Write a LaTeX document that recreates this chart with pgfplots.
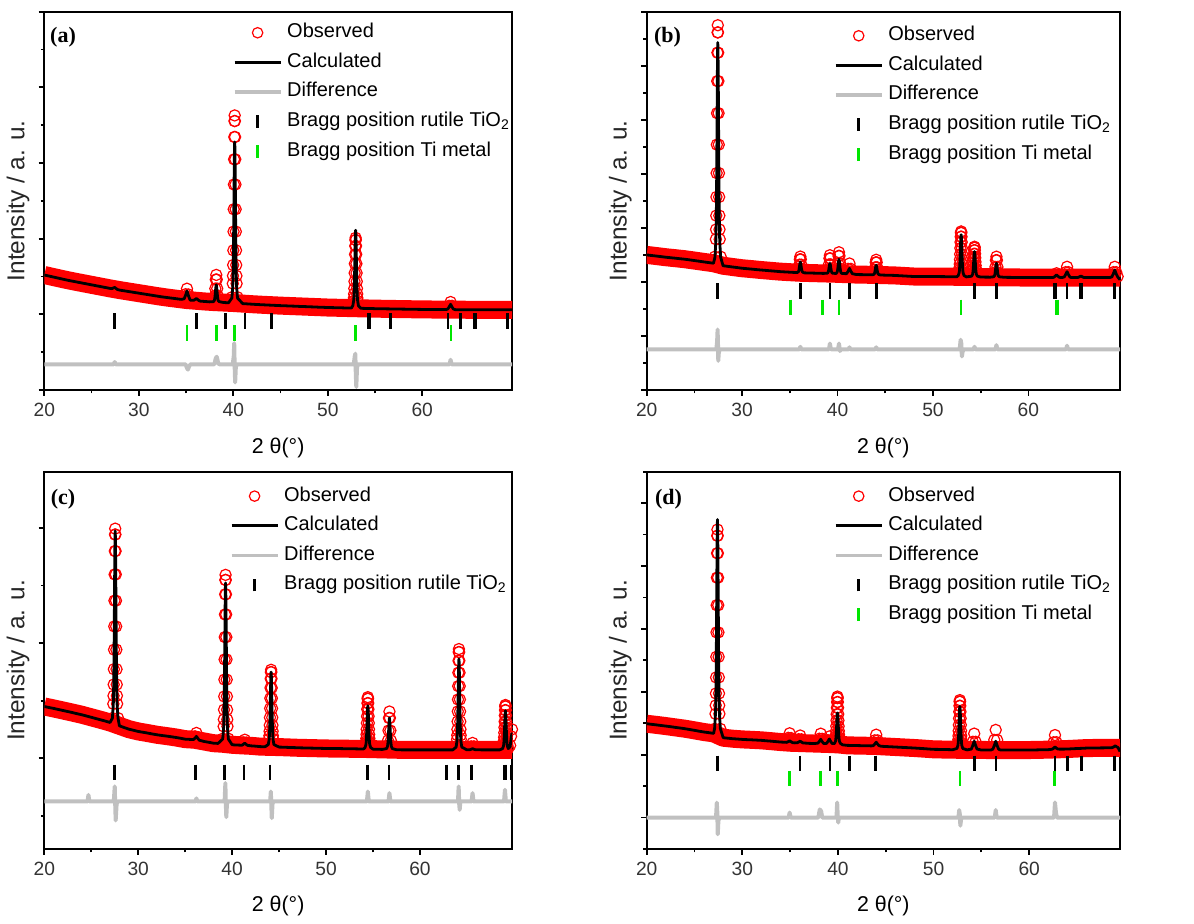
\documentclass[border=0pt]{standalone}
\usepackage{fontspec}
\setmainfont{Liberation Sans}
\newfontfamily\serifbf{Liberation Serif}
\usepackage{pgfplots}
\usepackage{pgfplotstable}
\pgfplotsset{compat=1.18}
\definecolor{obsred}{RGB}{255,0,0}
\definecolor{tigreen}{RGB}{0,230,0}
\definecolor{diffgray}{RGB}{192,192,192}

\pgfplotstableread{
x o c
20 1.520 1.520
20.5 1.506 1.506
21 1.492 1.492
21.5 1.478 1.478
22 1.464 1.464
22.5 1.450 1.450
23 1.438 1.438
23.5 1.426 1.426
24 1.414 1.414
24.5 1.402 1.402
25 1.390 1.390
25.5 1.378 1.378
26 1.366 1.366
26.5 1.354 1.354
27 1.342 1.342
27.15 1.341 1.340
27.3 1.350 1.348
27.45 1.361 1.356
27.6 1.343 1.341
27.75 1.328 1.328
28 1.320 1.320
28.5 1.310 1.310
29 1.300 1.300
29.5 1.290 1.290
30 1.280 1.280
30.5 1.270 1.270
31 1.260 1.260
31.5 1.250 1.250
32 1.240 1.240
32.5 1.230 1.230
33 1.222 1.222
33.5 1.214 1.214
34 1.206 1.206
34.5 1.198 1.198
34.8 1.208 1.205
34.95 1.266 1.251
35.1 1.339 1.309
35.25 1.263 1.248
35.4 1.201 1.198
35.5 1.185 1.185
35.8 1.185 1.185
35.95 1.196 1.196
36.1 1.209 1.209
36.25 1.193 1.193
36.4 1.179 1.179
36.5 1.175 1.175
37 1.170 1.170
37.5 1.165 1.165
37.9 1.172 1.168
38 1.197 1.184
38.05 1.247 1.216
38.1 1.341 1.276
38.15 1.460 1.352
38.2 1.521 1.391
38.25 1.460 1.352
38.3 1.341 1.276
38.35 1.247 1.216
38.4 1.197 1.184
38.5 1.172 1.168
39 1.156 1.156
39.5 1.153 1.153
39.85 1.226 1.215
39.95 1.407 1.371
39.97 1.509 1.458
39.99 1.652 1.581
40.01 1.846 1.748
40.03 2.094 1.961
40.05 2.389 2.214
40.07 2.716 2.495
40.09 3.049 2.781
40.11 3.344 3.034
40.13 3.555 3.215
40.15 3.629 3.279
40.17 3.555 3.215
40.19 3.344 3.034
40.21 3.049 2.781
40.23 2.716 2.495
40.25 2.389 2.214
40.27 2.094 1.961
40.29 1.846 1.748
40.31 1.652 1.581
40.33 1.509 1.458
40.35 1.407 1.371
40.45 1.226 1.215
41 1.142 1.142
41.5 1.138 1.138
42 1.134 1.134
42.5 1.130 1.130
43 1.127 1.127
43.5 1.124 1.124
44 1.121 1.121
44.5 1.118 1.118
45 1.115 1.115
45.5 1.113 1.113
46 1.110 1.110
46.5 1.108 1.108
47 1.105 1.105
47.5 1.103 1.103
48 1.100 1.100
48.5 1.098 1.098
49 1.095 1.095
49.5 1.093 1.093
50 1.090 1.090
50.5 1.089 1.089
51 1.087 1.087
51.5 1.086 1.086
52 1.084 1.084
52.5 1.083 1.083
52.65 1.110 1.113
52.75 1.178 1.188
52.77 1.216 1.230
52.79 1.270 1.290
52.81 1.342 1.370
52.83 1.435 1.473
52.85 1.546 1.596
52.87 1.669 1.732
52.89 1.793 1.870
52.91 1.904 1.993
52.93 1.983 2.080
52.95 2.011 2.111
52.97 1.983 2.080
52.99 1.904 1.993
53.01 1.793 1.870
53.03 1.669 1.732
53.05 1.546 1.596
53.07 1.435 1.473
53.09 1.342 1.370
53.11 1.270 1.290
53.13 1.216 1.230
53.15 1.178 1.188
53.25 1.110 1.113
53.5 1.080 1.080
54 1.078 1.078
54.5 1.077 1.077
55 1.075 1.075
55.5 1.074 1.074
56 1.073 1.073
56.5 1.072 1.072
57 1.071 1.071
57.5 1.070 1.070
58 1.069 1.069
58.5 1.068 1.068
59 1.067 1.067
59.5 1.066 1.066
60 1.065 1.065
60.5 1.065 1.065
61 1.064 1.064
61.5 1.064 1.064
62 1.063 1.063
62.5 1.063 1.063
62.7 1.073 1.070
62.85 1.113 1.098
63 1.163 1.133
63.15 1.113 1.098
63.3 1.073 1.070
63.5 1.062 1.062
64 1.061 1.061
64.5 1.061 1.061
65 1.060 1.060
65.5 1.060 1.060
66 1.060 1.060
66.5 1.060 1.060
67 1.060 1.060
67.5 1.060 1.060
68 1.060 1.060
68.5 1.060 1.060
69 1.060 1.060
69.5 1.060 1.060
}\tA

\pgfplotstableread{
x y
20 1.520
21 1.492
22 1.464
23 1.438
24 1.414
25 1.390
26 1.366
27 1.342
28 1.320
29 1.300
30 1.280
31 1.260
32 1.240
33 1.222
34 1.206
35 1.190
36 1.180
37 1.170
38 1.162
39 1.156
40 1.150
41 1.142
42 1.134
43 1.127
44 1.121
45 1.115
46 1.110
47 1.105
48 1.100
49 1.095
50 1.090
52 1.084
54 1.078
56 1.073
58 1.069
60 1.065
62 1.063
64 1.061
66 1.060
69.5 1.060
}\bA

\pgfplotstableread{
x y
20 0.34
27.35 0.34
27.45 0.37
27.55 0.34
34.95 0.34
35.1 0.29
35.2 0.27
35.35 0.32
35.5 0.34
38.0 0.34
38.15 0.42
38.25 0.44
38.4 0.36
38.5 0.34
39.95 0.34
40.05 0.45
40.1 0.62
40.15 0.30
40.2 0.10
40.27 0.30
40.35 0.34
52.75 0.34
52.85 0.44
52.92 0.48
52.97 0.20
53.02 0.04
53.1 0.30
53.2 0.34
62.9 0.34
63.0 0.40
63.1 0.34
69.5 0.34
}\dA

\pgfplotstableread{
x o c
20 2.500 2.500
20.5 2.489 2.489
21 2.479 2.479
21.5 2.468 2.468
22 2.457 2.457
22.5 2.448 2.448
23 2.439 2.439
23.5 2.429 2.429
24 2.420 2.420
24.5 2.408 2.408
25 2.395 2.395
25.5 2.383 2.383
26 2.370 2.370
26.5 2.358 2.358
27 2.346 2.346
27.15 2.467 2.457
27.25 2.790 2.756
27.27 2.971 2.925
27.29 3.227 3.162
27.31 3.572 3.482
27.33 4.014 3.892
27.35 4.540 4.380
27.37 5.123 4.921
27.39 5.716 5.471
27.41 6.242 5.959
27.43 6.617 6.307
27.45 6.750 6.430
27.47 6.617 6.307
27.49 6.242 5.959
27.51 5.716 5.471
27.53 5.123 4.921
27.55 4.540 4.380
27.57 4.014 3.892
27.59 3.572 3.482
27.61 3.227 3.162
27.63 2.971 2.925
27.65 2.790 2.756
27.75 2.467 2.457
28 2.300 2.300
28.5 2.288 2.288
29 2.276 2.276
29.5 2.265 2.265
30 2.253 2.253
30.5 2.245 2.245
31 2.237 2.237
31.5 2.228 2.228
32 2.220 2.220
32.5 2.213 2.213
33 2.205 2.205
33.5 2.198 2.198
34 2.190 2.190
34.5 2.185 2.185
35 2.180 2.180
35.5 2.175 2.175
35.8 2.178 2.175
35.9 2.199 2.189
35.95 2.241 2.217
36 2.319 2.269
36.05 2.418 2.335
36.1 2.469 2.369
36.15 2.418 2.335
36.2 2.319 2.269
36.25 2.241 2.217
36.3 2.199 2.189
36.4 2.178 2.175
36.5 2.168 2.168
37 2.165 2.165
37.5 2.163 2.163
38 2.160 2.160
38.5 2.158 2.158
38.9 2.164 2.160
39 2.188 2.173
39.05 2.236 2.200
39.1 2.324 2.249
39.15 2.436 2.312
39.2 2.494 2.344
39.25 2.436 2.312
39.3 2.324 2.249
39.35 2.236 2.200
39.4 2.188 2.173
39.5 2.164 2.160
39.85 2.161 2.157
39.95 2.189 2.176
40 2.245 2.214
40.05 2.349 2.284
40.1 2.481 2.373
40.15 2.549 2.419
40.2 2.481 2.373
40.25 2.349 2.284
40.3 2.245 2.214
40.35 2.189 2.176
40.45 2.161 2.157
40.95 2.161 2.152
41.1 2.241 2.196
41.25 2.341 2.251
41.4 2.241 2.196
41.55 2.161 2.152
42 2.136 2.136
42.5 2.135 2.135
43 2.133 2.133
43.5 2.132 2.132
43.75 2.138 2.135
43.85 2.158 2.148
43.9 2.197 2.173
43.95 2.270 2.220
44 2.362 2.279
44.05 2.410 2.310
44.1 2.362 2.279
44.15 2.270 2.220
44.2 2.197 2.173
44.25 2.158 2.148
44.35 2.138 2.135
44.5 2.128 2.128
45 2.125 2.125
45.5 2.123 2.123
46 2.120 2.120
46.5 2.115 2.115
47 2.110 2.110
47.5 2.105 2.105
48 2.100 2.100
48.5 2.100 2.100
49 2.100 2.100
49.5 2.100 2.100
50 2.100 2.100
50.5 2.099 2.099
51 2.098 2.098
51.5 2.097 2.097
52 2.096 2.096
52.5 2.095 2.095
52.65 2.120 2.118
52.75 2.181 2.175
52.77 2.216 2.207
52.79 2.265 2.252
52.81 2.330 2.313
52.83 2.414 2.391
52.85 2.514 2.484
52.87 2.625 2.587
52.89 2.737 2.691
52.91 2.837 2.784
52.93 2.909 2.851
52.95 2.934 2.874
52.97 2.909 2.851
52.99 2.837 2.784
53.01 2.737 2.691
53.03 2.625 2.587
53.05 2.514 2.484
53.07 2.414 2.391
53.09 2.330 2.313
53.11 2.265 2.252
53.13 2.216 2.207
53.15 2.181 2.175
53.25 2.120 2.118
53.5 2.093 2.093
54.05 2.108 2.106
54.15 2.149 2.140
54.17 2.172 2.159
54.19 2.205 2.186
54.21 2.248 2.223
54.23 2.304 2.270
54.25 2.371 2.326
54.27 2.445 2.388
54.29 2.520 2.451
54.31 2.587 2.507
54.33 2.634 2.547
54.35 2.651 2.561
54.37 2.634 2.547
54.39 2.587 2.507
54.41 2.520 2.451
54.43 2.445 2.388
54.45 2.371 2.326
54.47 2.304 2.270
54.49 2.248 2.223
54.51 2.205 2.186
54.53 2.172 2.159
54.55 2.149 2.140
54.65 2.108 2.106
55 2.090 2.090
55.5 2.089 2.089
56 2.088 2.088
56.35 2.098 2.095
56.45 2.125 2.113
56.5 2.178 2.149
56.55 2.277 2.217
56.6 2.402 2.303
56.65 2.467 2.347
56.7 2.402 2.303
56.75 2.277 2.217
56.8 2.178 2.149
56.85 2.125 2.113
56.95 2.098 2.095
57.5 2.085 2.085
58 2.084 2.084
58.5 2.083 2.083
59 2.082 2.082
59.5 2.081 2.081
60 2.080 2.080
60.5 2.080 2.080
61 2.080 2.080
61.5 2.080 2.080
62 2.080 2.080
62.5 2.080 2.080
62.65 2.088 2.085
62.8 2.120 2.105
62.95 2.160 2.130
63.1 2.120 2.105
63.25 2.088 2.085
63.5 2.080 2.080
63.75 2.100 2.091
63.9 2.180 2.135
64.05 2.280 2.190
64.2 2.180 2.135
64.35 2.100 2.091
64.5 2.080 2.080
65 2.080 2.080
65.2 2.083 2.083
65.35 2.098 2.095
65.5 2.115 2.110
65.65 2.098 2.095
65.8 2.083 2.083
66 2.080 2.080
66.5 2.080 2.080
67 2.080 2.080
67.5 2.080 2.080
68 2.080 2.080
68.5 2.080 2.080
68.75 2.100 2.094
68.9 2.180 2.150
69.05 2.280 2.220
69.2 2.180 2.150
69.35 2.100 2.094
69.6 2.040 2.040
}\tB

\pgfplotstableread{
x y
20 2.500
21 2.479
22 2.457
23 2.439
24 2.420
25 2.395
26 2.370
27 2.346
28 2.300
29 2.276
30 2.253
31 2.237
32 2.220
33 2.205
34 2.190
35 2.180
36 2.170
37 2.165
38 2.160
39 2.155
40 2.150
41 2.143
42 2.136
43 2.133
44 2.130
45 2.125
46 2.120
47 2.110
48 2.100
50 2.100
52 2.096
54 2.092
56 2.088
58 2.084
60 2.080
69.6 2.080
}\bB

\pgfplotstableread{
x y
20 0.753
27.3 0.753
27.38 0.90
27.43 1.12
27.47 0.85
27.5 0.54
27.55 0.68
27.65 0.753
36.0 0.753
36.1 0.80
36.2 0.753
39.1 0.753
39.2 0.86
39.3 0.753
40.05 0.753
40.15 0.86
40.25 0.72
40.35 0.753
41.15 0.753
41.25 0.79
41.35 0.753
43.95 0.753
44.05 0.79
44.15 0.753
52.8 0.753
52.9 0.93
52.97 0.86
53.03 0.62
53.1 0.70
53.2 0.753
54.25 0.753
54.35 0.80
54.45 0.753
56.55 0.753
56.65 0.83
56.75 0.753
63.95 0.753
64.05 0.82
64.15 0.753
69.6 0.753
}\dB

\pgfplotstableread{
x o c
20 1.449 1.449
20.5 1.440 1.440
21 1.432 1.432
21.5 1.423 1.423
22 1.414 1.414
22.5 1.405 1.405
23 1.396 1.396
23.5 1.386 1.386
24 1.377 1.377
24.5 1.366 1.366
25 1.355 1.355
25.5 1.344 1.344
26 1.333 1.333
26.5 1.322 1.322
27 1.310 1.310
27.25 1.348 1.347
27.35 1.472 1.470
27.37 1.542 1.539
27.39 1.640 1.636
27.41 1.773 1.767
27.43 1.943 1.935
27.45 2.145 2.135
27.47 2.369 2.357
27.49 2.597 2.582
27.51 2.800 2.782
27.53 2.944 2.925
27.55 2.995 2.975
27.57 2.944 2.925
27.59 2.800 2.782
27.61 2.597 2.582
27.63 2.369 2.357
27.65 2.145 2.135
27.67 1.943 1.935
27.69 1.773 1.767
27.71 1.640 1.636
27.73 1.542 1.539
27.75 1.472 1.470
27.85 1.348 1.347
28 1.281 1.281
28.5 1.266 1.266
29 1.252 1.252
29.5 1.242 1.242
30 1.232 1.232
30.5 1.225 1.225
31 1.218 1.218
31.5 1.210 1.210
32 1.203 1.203
32.5 1.197 1.197
33 1.192 1.192
33.5 1.186 1.186
34 1.180 1.180
34.5 1.173 1.173
35 1.165 1.165
35.5 1.163 1.163
35.9 1.165 1.162
36.05 1.189 1.174
36.2 1.219 1.189
36.35 1.183 1.171
36.5 1.159 1.156
37 1.145 1.145
37.5 1.138 1.138
38 1.130 1.130
38.5 1.128 1.128
39 1.169 1.166
39.1 1.276 1.269
39.12 1.336 1.326
39.14 1.421 1.407
39.16 1.536 1.516
39.18 1.683 1.656
39.2 1.858 1.823
39.22 2.052 2.008
39.24 2.249 2.195
39.26 2.424 2.362
39.28 2.549 2.481
39.3 2.593 2.523
39.32 2.549 2.481
39.34 2.424 2.362
39.36 2.249 2.195
39.38 2.052 2.008
39.4 1.858 1.823
39.42 1.683 1.656
39.44 1.536 1.516
39.46 1.421 1.407
39.48 1.336 1.326
39.5 1.276 1.269
39.6 1.169 1.166
40 1.116 1.116
40.5 1.114 1.114
41.05 1.115 1.112
41.2 1.135 1.120
41.35 1.160 1.130
41.5 1.134 1.119
41.65 1.114 1.111
42 1.107 1.107
42.5 1.104 1.104
43 1.100 1.100
43.5 1.099 1.099
43.85 1.119 1.118
43.95 1.168 1.166
43.97 1.195 1.192
43.99 1.234 1.230
44.01 1.286 1.281
44.03 1.353 1.346
44.05 1.433 1.423
44.07 1.521 1.509
44.09 1.611 1.596
44.11 1.691 1.673
44.13 1.748 1.729
44.15 1.768 1.748
44.17 1.748 1.729
44.19 1.691 1.673
44.21 1.611 1.596
44.23 1.521 1.509
44.25 1.433 1.423
44.27 1.353 1.346
44.29 1.286 1.281
44.31 1.234 1.230
44.33 1.195 1.192
44.35 1.168 1.166
44.45 1.119 1.118
45 1.096 1.096
45.5 1.095 1.095
46 1.093 1.093
46.5 1.092 1.092
47 1.090 1.090
47.5 1.089 1.089
48 1.088 1.088
48.5 1.087 1.087
49 1.086 1.086
49.5 1.085 1.085
50 1.084 1.084
50.5 1.084 1.084
51 1.083 1.083
51.5 1.083 1.083
52 1.082 1.082
52.5 1.082 1.082
53 1.081 1.081
53.5 1.080 1.080
54 1.080 1.080
54.15 1.094 1.092
54.25 1.127 1.119
54.27 1.145 1.134
54.29 1.171 1.156
54.31 1.206 1.185
54.33 1.251 1.223
54.35 1.305 1.268
54.37 1.364 1.317
54.39 1.425 1.367
54.41 1.478 1.412
54.43 1.517 1.444
54.45 1.530 1.455
54.47 1.517 1.444
54.49 1.478 1.412
54.51 1.425 1.367
54.53 1.364 1.317
54.55 1.305 1.268
54.57 1.251 1.223
54.59 1.206 1.185
54.61 1.171 1.156
54.63 1.145 1.134
54.65 1.127 1.119
54.75 1.094 1.092
55 1.078 1.078
55.5 1.077 1.077
56 1.076 1.076
56.45 1.085 1.083
56.55 1.108 1.103
56.6 1.154 1.141
56.65 1.240 1.213
56.7 1.349 1.303
56.75 1.405 1.350
56.8 1.349 1.303
56.85 1.240 1.213
56.9 1.154 1.141
56.95 1.108 1.103
57.05 1.085 1.083
57.5 1.073 1.073
58 1.072 1.072
58.5 1.072 1.072
59 1.072 1.072
59.5 1.072 1.072
60 1.072 1.072
60.5 1.072 1.072
61 1.072 1.072
61.5 1.072 1.072
62 1.072 1.072
62.5 1.072 1.072
63 1.072 1.072
63.5 1.072 1.072
63.85 1.099 1.096
63.95 1.163 1.154
63.97 1.199 1.187
63.99 1.250 1.232
64.01 1.318 1.294
64.03 1.406 1.373
64.05 1.510 1.467
64.07 1.626 1.571
64.09 1.743 1.677
64.11 1.847 1.771
64.13 1.922 1.838
64.15 1.948 1.862
64.17 1.922 1.838
64.19 1.847 1.771
64.21 1.743 1.677
64.23 1.626 1.571
64.25 1.510 1.467
64.27 1.406 1.373
64.29 1.318 1.294
64.31 1.250 1.232
64.33 1.199 1.187
64.35 1.163 1.154
64.45 1.099 1.096
65 1.072 1.072
65.3 1.078 1.073
65.45 1.102 1.077
65.6 1.132 1.082
65.75 1.102 1.077
65.9 1.078 1.073
66.5 1.072 1.072
67 1.072 1.072
67.5 1.072 1.072
68 1.072 1.072
68.5 1.072 1.072
68.8 1.084 1.083
68.9 1.113 1.107
68.92 1.129 1.121
68.94 1.151 1.141
68.96 1.182 1.168
68.98 1.221 1.202
69 1.267 1.242
69.02 1.318 1.287
69.04 1.371 1.332
69.06 1.417 1.373
69.08 1.450 1.402
69.1 1.462 1.412
69.12 1.450 1.402
69.14 1.417 1.373
69.16 1.371 1.332
69.18 1.318 1.287
69.2 1.267 1.242
69.22 1.221 1.202
69.24 1.182 1.168
69.26 1.151 1.141
69.28 1.129 1.121
69.3 1.113 1.107
69.4 1.084 1.083
69.6 1.110 1.100
69.7 1.190 1.170
69.8 1.250 1.220
}\tC

\pgfplotstableread{
x y
20 1.449
21 1.432
22 1.414
23 1.396
24 1.377
25 1.355
26 1.333
27 1.310
28 1.281
29 1.252
30 1.232
31 1.218
32 1.203
33 1.192
34 1.180
35 1.165
36 1.160
37 1.145
38 1.130
39 1.125
40 1.116
41 1.111
42 1.107
43 1.100
44 1.098
45 1.096
46 1.093
47 1.090
48 1.088
50 1.084
52 1.082
54 1.080
56 1.076
58 1.072
69.8 1.072
}\bC

\pgfplotstableread{
x y
20 0.623
24.6 0.623
24.7 0.68
24.8 0.623
27.4 0.623
27.5 0.754
27.55 0.60
27.6 0.458
27.7 0.60
27.8 0.623
36.1 0.623
36.2 0.65
36.3 0.623
39.2 0.623
39.28 0.783
39.33 0.60
39.38 0.487
39.45 0.60
39.55 0.623
44.05 0.623
44.12 0.71
44.17 0.60
44.22 0.478
44.3 0.60
44.38 0.623
54.35 0.623
54.45 0.71
54.55 0.623
56.65 0.623
56.75 0.696
56.85 0.623
64.05 0.623
64.12 0.754
64.18 0.60
64.23 0.55
64.3 0.623
65.5 0.623
65.6 0.696
65.7 0.623
68.95 0.623
69.05 0.725
69.15 0.623
69.8 0.623
}\dC

\pgfplotstableread{
x o c
20 1.492 1.492
20.5 1.483 1.483
21 1.474 1.474
21.5 1.464 1.464
22 1.455 1.455
22.5 1.445 1.445
23 1.434 1.434
23.5 1.424 1.424
24 1.413 1.413
24.5 1.400 1.400
25 1.387 1.387
25.5 1.373 1.373
26 1.360 1.360
26.5 1.350 1.350
27 1.339 1.339
27.1 1.411 1.416
27.2 1.650 1.667
27.22 1.784 1.807
27.24 1.974 2.006
27.26 2.229 2.274
27.28 2.556 2.617
27.3 2.945 3.025
27.32 3.377 3.478
27.34 3.815 3.937
27.36 4.204 4.346
27.38 4.482 4.637
27.4 4.580 4.740
27.42 4.482 4.637
27.44 4.204 4.346
27.46 3.815 3.937
27.48 3.377 3.478
27.5 2.945 3.025
27.52 2.556 2.617
27.54 2.229 2.274
27.56 1.974 2.006
27.58 1.784 1.807
27.6 1.650 1.667
27.7 1.411 1.416
28 1.270 1.270
28.5 1.262 1.262
29 1.254 1.254
29.5 1.249 1.249
30 1.243 1.243
30.5 1.239 1.239
31 1.236 1.236
31.5 1.232 1.232
32 1.228 1.228
32.5 1.221 1.221
33 1.215 1.215
33.5 1.208 1.208
34 1.201 1.201
34.65 1.208 1.196
34.8 1.268 1.208
34.95 1.340 1.220
35.1 1.265 1.205
35.25 1.204 1.192
35.5 1.188 1.188
35.75 1.199 1.190
35.9 1.246 1.201
36.05 1.305 1.215
36.2 1.244 1.199
36.35 1.196 1.187
37 1.180 1.180
37.5 1.178 1.178
37.9 1.192 1.182
38.05 1.254 1.210
38.2 1.334 1.244
38.35 1.252 1.208
38.5 1.188 1.179
38.8 1.182 1.178
38.95 1.230 1.210
39.1 1.290 1.250
39.25 1.228 1.208
39.4 1.180 1.176
39.65 1.188 1.180
39.75 1.243 1.216
39.77 1.274 1.237
39.79 1.318 1.266
39.81 1.378 1.305
39.83 1.454 1.355
39.85 1.544 1.414
39.87 1.644 1.480
39.89 1.746 1.547
39.91 1.837 1.607
39.93 1.901 1.649
39.95 1.924 1.664
39.97 1.901 1.649
39.99 1.837 1.607
40.01 1.746 1.547
40.03 1.644 1.480
40.05 1.544 1.414
40.07 1.454 1.355
40.09 1.378 1.305
40.11 1.318 1.266
40.13 1.274 1.237
40.15 1.243 1.216
40.25 1.188 1.180
40.5 1.156 1.156
41 1.148 1.148
41.5 1.147 1.147
42 1.145 1.145
42.5 1.143 1.143
43 1.142 1.142
43.5 1.140 1.140
43.7 1.156 1.144
43.85 1.228 1.168
44 1.318 1.198
44.15 1.228 1.168
44.3 1.156 1.144
44.5 1.134 1.134
45 1.130 1.130
45.5 1.126 1.126
46 1.122 1.122
46.5 1.118 1.118
47 1.114 1.114
47.5 1.110 1.110
48 1.106 1.106
48.5 1.101 1.101
49 1.096 1.096
49.5 1.090 1.090
50 1.085 1.085
50.5 1.084 1.084
51 1.082 1.082
51.5 1.081 1.081
52 1.079 1.079
52.45 1.102 1.099
52.55 1.160 1.150
52.57 1.193 1.178
52.59 1.238 1.218
52.61 1.300 1.272
52.63 1.379 1.341
52.65 1.473 1.423
52.67 1.577 1.514
52.69 1.683 1.607
52.71 1.777 1.689
52.73 1.844 1.747
52.75 1.868 1.768
52.77 1.844 1.747
52.79 1.777 1.689
52.81 1.683 1.607
52.83 1.577 1.514
52.85 1.473 1.423
52.87 1.379 1.341
52.89 1.300 1.272
52.91 1.238 1.218
52.93 1.193 1.178
52.95 1.160 1.150
53.05 1.102 1.099
53.5 1.076 1.076
53.95 1.101 1.089
54.1 1.205 1.145
54.25 1.335 1.215
54.4 1.205 1.145
54.55 1.101 1.089
55 1.074 1.074
55.5 1.074 1.074
56 1.074 1.074
56.2 1.106 1.088
56.35 1.234 1.144
56.5 1.394 1.214
56.65 1.234 1.144
56.8 1.106 1.088
57 1.074 1.074
57.5 1.074 1.074
58 1.074 1.074
58.5 1.074 1.074
59 1.074 1.074
59.5 1.074 1.074
60 1.074 1.074
60.5 1.075 1.075
61 1.077 1.077
61.5 1.078 1.078
62 1.080 1.080
62.4 1.105 1.086
62.55 1.197 1.102
62.7 1.312 1.122
62.85 1.198 1.103
63 1.108 1.089
63.5 1.088 1.088
64 1.090 1.090
64.5 1.094 1.094
65 1.098 1.098
65.5 1.101 1.101
66 1.105 1.105
66.5 1.106 1.106
67 1.107 1.107
67.5 1.108 1.108
68 1.109 1.109
68.5 1.109 1.109
68.7 1.113 1.113
68.85 1.125 1.125
69 1.140 1.140
69.15 1.125 1.125
69.3 1.113 1.113
69.5 1.050 1.050
}\tD

\pgfplotstableread{
x y
20 1.492
21 1.474
22 1.455
23 1.434
24 1.413
25 1.387
26 1.360
27 1.339
28 1.270
29 1.254
30 1.243
31 1.236
32 1.228
33 1.215
34 1.201
35 1.190
36 1.185
37 1.180
38 1.175
39 1.170
40 1.164
41 1.148
42 1.145
43 1.142
44 1.138
45 1.130
46 1.122
47 1.114
48 1.106
49 1.096
50 1.085
52 1.079
54 1.076
56 1.074
60 1.074
62 1.080
64 1.090
66 1.105
68 1.109
69.5 1.110
}\bD

\pgfplotstableread{
x y
20 0
27.25 0
27.33 0.238
27.38 0.10
27.43 -0.265
27.5 -0.05
27.6 0
34.85 0
34.95 0.08
35.05 0
37.95 0
38.1 0.13
38.25 0.10
38.35 0
39.85 0
39.92 0.24
39.97 0.05
40.03 -0.08
40.1 0
52.6 0
52.68 0.12
52.75 0.05
52.8 -0.13
52.9 0
56.4 0
56.5 0.12
56.6 0
62.6 0
62.7 0.24
62.8 0.08
62.9 0
69.5 0
}\dD

\tikzset{plabel/.style={font=\serifbf\bfseries\fontsize{11}{12}\selectfont, anchor=center}}

\pgfplotsset{
  xrdaxis/.style={
    scale only axis, anchor=south west, clip mode=individual,
    xmin=20, xtick={20,30,40,50,60}, minor x tick num=1,
    minor y tick num=1,
    tick align=outside, tick pos=left,
    major tick length=2.8pt, minor tick length=1.7pt,
    every tick/.style={black, line width=0.9pt},
    axis line style={line width=1pt},
    yticklabels={},
    xticklabel style={font=\fontsize{9.6}{10}\selectfont, text=black!80},
    /pgf/number format/assume math mode=true,
    xlabel={2 θ(°)},
    ylabel={Intensity / a. u.},
    every axis x label/.style={at={(axis description cs:0.5,-0.152)}, anchor=center, font=\fontsize{10.7}{12}\selectfont},
    every axis y label/.style={at={(axis description cs:-0.056,0.5)}, rotate=90, anchor=center, font=\fontsize{12.2}{13}\selectfont, text=black!85},
    legend style={draw=none, fill=none, anchor=north west, inner sep=0pt, outer sep=0pt,
      font=\fontsize{10}{11}\selectfont, row sep=5.1pt, column sep=2.5pt,
      nodes={inner sep=0pt, text height=7.3pt, text depth=2.4pt}},
    legend cell align=left,
  },
  band/.style={obsred, line width=9pt, line join=round, forget plot},
  obs/.style={only marks, mark=o, mark size=2.8pt, mark options={obsred, line width=0.6pt},
    unbounded coords=discard,
    restrict expr to domain={abs(\thisrow{o}-\thisrow{c})}{0.0009:100},
    legend image code/.code={\draw[obsred, line width=0.6pt] (11.5pt,0pt) circle[radius=2.6pt];}},
  calc/.style={black, line width=1.4pt, line join=round,
    legend image code/.code={\draw[black, line width=1.6pt] (0pt,0pt) -- (23pt,0pt);}},
  diff/.style={diffgray, line width=2pt, line join=round,
    legend image code/.code={\draw[diffgray, line width=1.6pt] (0pt,0pt) -- (23pt,0pt);}},
  braggR/.style={only marks, mark=|, mark size=3.9pt, mark options={black, line width=1.3pt},
    legend image code/.code={\draw[black, line width=1.3pt] (11.5pt,-3.2pt) -- (11.5pt,3.2pt);}},
  braggT/.style={only marks, mark=|, mark size=3.9pt, mark options={tigreen, line width=1.3pt},
    legend image code/.code={\draw[tigreen, line width=1.3pt] (11.5pt,-3.2pt) -- (11.5pt,3.2pt);}},
}

\begin{document}
\begin{tikzpicture}
\useasboundingbox (0,0) rectangle (597pt,461.5pt);

% (a)
\begin{axis}[xrdaxis, at={(22.15pt,266.5pt)}, width=233.85pt, height=189.15pt,
  xmax=69.5, ymin=0, ymax=5, ytick={0,1,2,3,4,5},
  legend style={at={(0.4035,0.970)}}]
\addplot[band] table[x=x,y=y]{\bA};
\addplot[obs] table[x=x,y=o]{\tA}; \addlegendentry{Observed}
\addplot[calc] table[x=x,y=c]{\tA}; \addlegendentry{Calculated}
\addplot[diff] table[x=x,y=y]{\dA}; \addlegendentry{Difference}
\addplot[braggR] coordinates {(27.45,0.91) (36.09,0.91) (39.19,0.91) (41.25,0.91) (44.05,0.91) (54.32,0.91) (54.45,0.91) (56.64,0.91) (62.74,0.91) (64.04,0.91) (65.48,0.91) (65.62,0.91) (69.0,0.91)};
\addlegendentry{Bragg position rutile TiO\textsubscript{2}}
\addplot[braggT] coordinates {(35.1,0.75) (38.25,0.75) (40.15,0.75) (52.95,0.75) (63.05,0.75)};
\addlegendentry{Bragg position Ti metal}
\node[plabel] at (rel axis cs:0.040,0.932) {(a)};
\end{axis}

% (b)
\begin{axis}[xrdaxis, at={(323.35pt,266.5pt)}, width=236.65pt, height=189.15pt,
  xmax=69.6, ymin=0, ymax=7, ytick={0,1,2,3,4,5,6,7},
  legend style={at={(0.396,0.962)}}]
\addplot[band] table[x=x,y=y]{\bB};
\addplot[obs] table[x=x,y=o]{\tB}; \addlegendentry{Observed}
\addplot[calc] table[x=x,y=c]{\tB}; \addlegendentry{Calculated}
\addplot[diff] table[x=x,y=y]{\dB}; \addlegendentry{Difference}
\addplot[braggR] coordinates {(27.45,1.83) (36.09,1.83) (39.19,1.83) (41.25,1.83) (44.05,1.83) (54.32,1.83) (56.64,1.83) (62.74,1.83) (62.86,1.83) (64.04,1.83) (65.48,1.83) (65.6,1.83) (69.0,1.83)};
\addlegendentry{Bragg position rutile TiO\textsubscript{2}}
\addplot[braggT] coordinates {(35.1,1.53) (38.4,1.53) (40.15,1.53) (52.95,1.53) (62.9,1.53) (63.02,1.53)};
\addlegendentry{Bragg position Ti metal}
\node[plabel] at (rel axis cs:0.044,0.932) {(b)};
\end{axis}

% (c)
\begin{axis}[xrdaxis, at={(22.15pt,37pt)}, width=233.85pt, height=188.65pt,
  xmax=69.8, ymin=0.21, ymax=3.49, ytick={1,2,3}, minor ytick={0.5,1.5,2.5},
  legend style={at={(0.397,0.961)}}]
\addplot[band] table[x=x,y=y]{\bC};
\addplot[obs] table[x=x,y=o]{\tC}; \addlegendentry{Observed}
\addplot[calc] table[x=x,y=c]{\tC}; \addlegendentry{Calculated}
\addplot[diff] table[x=x,y=y]{\dC}; \addlegendentry{Difference}
\addplot[braggR] coordinates {(27.45,0.876) (36.09,0.876) (39.19,0.876) (41.25,0.876) (44.05,0.876) (54.4,0.876) (56.7,0.876) (62.8,0.876) (64.1,0.876) (65.5,0.876) (69.0,0.876) (69.08,0.876) (69.7,0.876)};
\addlegendentry{Bragg position rutile TiO\textsubscript{2}}
\node[plabel] at (rel axis cs:0.040,0.928) {(c)};
\end{axis}

% (d)
\begin{axis}[xrdaxis, at={(323.35pt,37pt)}, width=236.65pt, height=188.65pt,
  xmax=69.5, ymin=-0.5, ymax=5.5, ytick={0,1,2,3,4,5}, minor ytick={-0.5,0.5,1.5,2.5,3.5,4.5,5.5},
  legend style={at={(0.396,0.961)}}]
\addplot[band] table[x=x,y=y]{\bD};
\addplot[obs] table[x=x,y=o]{\tD}; \addlegendentry{Observed}
\addplot[calc] table[x=x,y=c]{\tD}; \addlegendentry{Calculated}
\addplot[diff] table[x=x,y=y]{\dD}; \addlegendentry{Difference}
\addplot[braggR] coordinates {(27.4,0.86) (36.05,0.86) (39.15,0.86) (41.2,0.86) (43.95,0.86) (54.25,0.86) (56.55,0.86) (62.7,0.86) (64.0,0.86) (65.4,0.86) (65.52,0.86) (68.95,0.86)};
\addlegendentry{Bragg position rutile TiO\textsubscript{2}}
\addplot[braggT] coordinates {(34.95,0.62) (38.2,0.62) (39.95,0.62) (52.75,0.62) (62.65,0.62)};
\addlegendentry{Bragg position Ti metal}
\node[plabel] at (rel axis cs:0.046,0.928) {(d)};
\end{axis}
\end{tikzpicture}
\end{document}
